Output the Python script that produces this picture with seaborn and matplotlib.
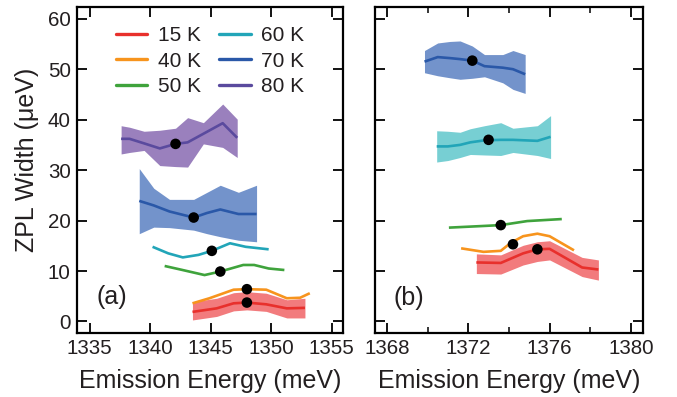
import numpy as np
import pandas as pd
import seaborn as sns
import matplotlib.pyplot as plt
from matplotlib.ticker import MultipleLocator
from matplotlib.lines import Line2D

# ---- data (meV, ueV) ----
temps = ["15 K", "40 K", "50 K", "60 K", "70 K", "80 K"]

# panel (a)
a15_x = [1343.5, 1345.5, 1346.9, 1348.0, 1349.6, 1351.3, 1352.8]
a15_y = [1.9, 2.6, 3.6, 3.75, 3.4, 2.6, 2.7]
a15_hi = [3.9, 4.6, 5.7, 5.9, 5.6, 4.3, 4.6]
a15_lo = [0.3, 1.0, 2.1, 2.3, 2.0, 0.7, 0.7]

a40_x = [1343.5, 1344.9, 1346.9, 1348.0, 1349.6, 1351.3, 1352.4, 1353.2]
a40_y = [3.6, 4.6, 6.3, 6.4, 6.3, 4.6, 4.7, 5.6]

a50_x = [1341.2, 1342.5, 1344.5, 1345.8, 1347.7, 1348.6, 1349.8, 1351.1]
a50_y = [11.0, 10.3, 9.2, 9.9, 11.2, 11.2, 10.5, 10.2]

a60_x = [1340.2, 1341.5, 1342.7, 1344.0, 1345.1, 1346.6, 1347.9, 1349.8]
a60_y = [14.8, 13.5, 12.7, 13.2, 14.0, 15.5, 14.8, 14.3]

a70_x = [1339.1, 1340.3, 1341.6, 1343.6, 1344.7, 1345.8, 1347.3, 1348.8]
a70_y = [23.9, 23.0, 21.8, 20.6, 21.5, 22.2, 21.3, 21.3]
a70_hi = [30.3, 26.4, 24.2, 24.2, 25.6, 27.0, 25.6, 27.0]
a70_lo = [17.4, 18.7, 18.6, 18.1, 17.4, 16.8, 16.1, 15.8]

a80_x = [1337.6, 1338.3, 1339.5, 1340.8, 1342.1, 1343.1, 1344.4, 1346.0, 1347.2]
a80_y = [36.2, 36.2, 35.3, 34.3, 35.2, 35.5, 37.2, 39.3, 36.4]
a80_hi = [38.8, 38.5, 37.7, 37.9, 38.3, 40.4, 39.4, 43.1, 40.1]
a80_lo = [33.2, 33.5, 33.9, 30.9, 30.7, 30.6, 35.2, 34.5, 32.5]

a_dot_x = [1348.0, 1348.0, 1345.8, 1345.1, 1343.6, 1342.1]
a_dot_y = [3.75, 6.4, 9.9, 14.0, 20.6, 35.2]

# panel (b)
b15_x = [1372.4, 1373.6, 1374.7, 1375.4, 1376.0, 1377.6, 1378.4]
b15_y = [11.7, 11.6, 13.5, 14.3, 14.4, 10.7, 10.3]
b15_hi = [13.4, 13.2, 15.1, 15.8, 16.0, 12.7, 12.2]
b15_lo = [9.5, 9.4, 11.2, 11.9, 12.2, 8.9, 8.2]

b40_x = [1371.65, 1372.75, 1373.6, 1374.1, 1374.7, 1375.4, 1376.0, 1377.2]
b40_y = [14.5, 13.8, 14.0, 15.6, 16.9, 17.4, 16.9, 14.1]

b50_x = [1371.05, 1372.6, 1373.6, 1374.9, 1376.6]
b50_y = [18.6, 18.9, 19.1, 19.9, 20.3]

b60_x = [1370.45, 1371.0, 1371.6, 1372.1, 1372.8, 1373.6, 1374.2, 1375.4, 1376.05]
b60_y = [34.7, 34.7, 35.0, 35.5, 35.9, 36.0, 36.0, 35.8, 36.6]
b60_hi = [37.8, 37.7, 37.5, 38.2, 38.8, 39.4, 38.3, 38.8, 40.8]
b60_lo = [31.6, 31.9, 32.5, 33.1, 33.0, 32.9, 33.5, 32.9, 32.3]

b70_x = [1369.85, 1370.5, 1371.1, 1371.6, 1372.2, 1372.8, 1373.7, 1374.2, 1374.8]
b70_y = [51.5, 52.4, 52.2, 52.0, 51.7, 50.6, 50.3, 50.0, 49.0]
b70_hi = [53.7, 55.2, 55.5, 55.6, 54.6, 52.9, 52.9, 53.7, 52.9]
b70_lo = [49.3, 48.7, 48.3, 48.0, 48.2, 48.5, 47.3, 46.0, 45.2]

b_dot_x = [1375.4, 1374.2, 1373.6, 1373.0, 1372.2]
b_dot_y = [14.3, 15.3, 19.1, 36.0, 51.7]

line_colors = {"15 K": "#e8302c", "40 K": "#f7941d", "50 K": "#3fa33c",
               "60 K": "#22a5b8", "70 K": "#2a58a8", "80 K": "#5a4a9e"}
fill_colors = {"15 K": "#f27b7d", "70 K": "#7393cb", "60 K": "#77cfd3",
               "80 K": "#9a80bd"}
txt = "#231f20"

sns.set_style("ticks")
plt.rcParams["font.family"] = ["Liberation Sans", "DejaVu Sans"]

fig = plt.figure(figsize=(6.77, 3.97), dpi=100)
ax_a = fig.add_axes([0.1137, 0.161, 0.393, 0.821])
ax_b = fig.add_axes([0.554, 0.161, 0.396, 0.821])


def draw(ax, x, y, t, lo=None, hi=None):
    if lo is not None:
        ax.fill_between(x, lo, hi, color=fill_colors[t], lw=0, zorder=1)
    df = pd.DataFrame({"E": x, "W": y})
    sns.lineplot(data=df, x="E", y="W", ax=ax, color=line_colors[t],
                 lw=1.9, sort=False, zorder=2, solid_joinstyle="round",
                 solid_capstyle="butt")


draw(ax_a, a15_x, a15_y, "15 K", a15_lo, a15_hi)
draw(ax_a, a40_x, a40_y, "40 K")
draw(ax_a, a50_x, a50_y, "50 K")
draw(ax_a, a60_x, a60_y, "60 K")
draw(ax_a, a70_x, a70_y, "70 K", a70_lo, a70_hi)
draw(ax_a, a80_x, a80_y, "80 K", a80_lo, a80_hi)
sns.scatterplot(x=a_dot_x, y=a_dot_y, ax=ax_a, color="black", s=58,
                edgecolor="none", zorder=5)

draw(ax_b, b15_x, b15_y, "15 K", b15_lo, b15_hi)
draw(ax_b, b40_x, b40_y, "40 K")
draw(ax_b, b50_x, b50_y, "50 K")
draw(ax_b, b60_x, b60_y, "60 K", b60_lo, b60_hi)
draw(ax_b, b70_x, b70_y, "70 K", b70_lo, b70_hi)
sns.scatterplot(x=b_dot_x, y=b_dot_y, ax=ax_b, color="black", s=58,
                edgecolor="none", zorder=5)

ax_a.set_xlim(1333.95, 1355.95)
ax_b.set_xlim(1367.42, 1380.6)
ax_a.xaxis.set_major_locator(MultipleLocator(5))
ax_b.xaxis.set_major_locator(MultipleLocator(4))
ax_b.xaxis.set_minor_locator(MultipleLocator(2))

for ax in (ax_a, ax_b):
    ax.set_ylim(-2.3, 62.3)
    ax.yaxis.set_major_locator(MultipleLocator(10))
    ax.tick_params(which="major", direction="in", length=7, width=1.3,
                   top=True, right=True, labelsize=14.8, pad=4.5,
                   colors="black", labelcolor=txt)
    ax.tick_params(which="minor", direction="in", length=4, width=1.3,
                   top=True, right=True)
    for s in ax.spines.values():
        s.set_linewidth(1.6)
        s.set_color("black")
    ax.set_xlabel("Emission Energy (meV)", fontsize=18, color=txt,
                  labelpad=8)
    ax.set_ylabel("")

ax_b.tick_params(labelleft=False)
ax_a.set_ylabel("ZPL Width (\u03bceV)", fontsize=18, color=txt)
ax_a.yaxis.set_label_coords(-0.143, 0.53)

ax_a.text(0.075, 0.11, "(a)", transform=ax_a.transAxes, fontsize=18,
          va="center", color=txt)
ax_b.text(0.07, 0.108, "(b)", transform=ax_b.transAxes, fontsize=18,
          va="center", color=txt)

handles = [Line2D([], [], color=line_colors[t], lw=2.4) for t in temps]
ax_a.legend(handles, temps, ncol=2, loc="upper center", frameon=False,
            fontsize=15, handlelength=1.5, columnspacing=0.9,
            labelspacing=0.32, handletextpad=0.5,
            bbox_to_anchor=(0.5, 1.0), labelcolor=txt)

fig.savefig("out.png", dpi=100)
